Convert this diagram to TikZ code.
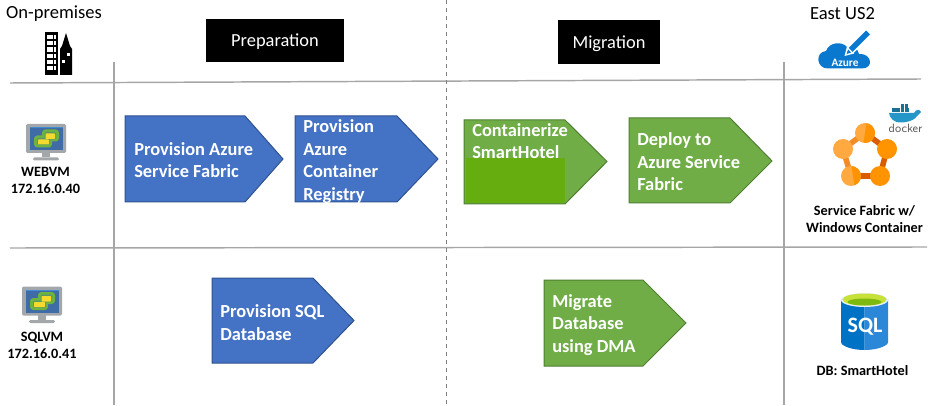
\documentclass[tikz,border=0pt]{standalone}
\usepackage{fontspec}
\setmainfont{Carlito}
\usetikzlibrary{positioning}
\definecolor{bluefill}{HTML}{4472C4}
\definecolor{blueline}{HTML}{2F528F}
\definecolor{greenfill}{HTML}{70AD47}
\definecolor{greenline}{HTML}{507E32}
\definecolor{limefill}{HTML}{66AD10}
\definecolor{gridgray}{HTML}{A6A6A6}
\definecolor{azureblue}{HTML}{0B78D0}
\definecolor{sqlright}{HTML}{2B88D8}
\definecolor{sqlleft}{HTML}{0072C6}
\definecolor{fabriclight}{HTML}{FFA940}
\definecolor{fabricdark}{HTML}{FF9300}
\definecolor{vmgray}{HTML}{A3A7AA}
\definecolor{vmscreen}{HTML}{3F6CA6}
\definecolor{vmgreen}{HTML}{6DB33F}
\definecolor{vmyellow}{HTML}{F4D92E}
\definecolor{dockerblue}{HTML}{2496C8}
\tikzset{
    gridline/.style={gridgray, line width=1.1pt},
    bluearrow/.style={fill=bluefill, draw=blueline, line width=0.75pt},
    greenarrow/.style={fill=greenfill, draw=greenline, line width=0.75pt},
    arrowtext/.style={anchor=west, align=left, text=white, inner sep=0pt,
        font=\fontsize{13.8}{16.9}\selectfont\bfseries},
    headbox/.style={fill=black, text=white, inner sep=0pt,
        font=\fontsize{13.8}{15}\selectfont},
    sitetext/.style={inner sep=0pt, font=\fontsize{13.9}{16}\selectfont},
    hosttext/.style={align=center, inner sep=0pt,
        font=\fontsize{10.7}{13.3}\selectfont\bfseries},
    vmicon/.pic={
        \fill[vmgray, rounded corners=1] (-20,-14.5) rectangle (20,14.5);
        \fill[vmgray] (-4,14) rectangle (4,19);
        \fill[vmgray, rounded corners=1] (-13,19) rectangle (13,22);
        \fill[vmscreen] (-16.5,-11.5) rectangle (16.5,11.5);
        \fill[cyan!60!blue!80] (-16.5,-11.5) rectangle (16.5,-10);
        \fill[vmgreen, rounded corners=2.5] (-12,-3) rectangle (6,9);
        \fill[vmgreen, rounded corners=2.5] (-4,-9) rectangle (13,3);
        \fill[vmgreen!60!vmscreen, rounded corners=1] (-9,-0.5) rectangle (4,6.5);
        \fill[vmgreen!60!vmscreen, rounded corners=1] (-1.5,-6.5) rectangle (10,1);
        \fill[vmyellow, rounded corners=0.5] (-8,1) rectangle (3,6);
        \fill[vmyellow, rounded corners=0.5] (-0.5,-5) rectangle (9,0.5);
    }
}
\begin{document}
\begin{tikzpicture}[x=0.75pt, y=-0.75pt]
    \useasboundingbox (0,0) rectangle (928,406);
    % grid
    \draw[gridline] (10,83)--(921,79);
    \draw[gridline] (10,248)--(927,247);
    \draw[gridline] (114,62)--(114,405);
    \draw[gridline] (784,62)--(784,405);
    \draw[gray, line width=0.75pt, dashed] (446,0)--(446,405);
    % column heads
    \node[sitetext] (onprem) at (54,13.5) {On-premises};
    \node[sitetext] (eastus) at (842.5,14) {East US2};
    \fill[black] (206,19) rectangle (344,62);
    \node[headbox] (prep) at (275,41.5) {Preparation};
    \fill[black] (558,20) rectangle (660,64);
    \node[headbox] (migr) at (609,43.5) {Migration};
    % building
    \fill[black] (45,32) rectangle (58,75);
    \fill[black] (60,49)--(62,46)--(66,33)--(70,46)--(72,49)--(72,75)--(60,75)--cycle;
    \foreach \i in {0,1,2,3,4,5}
        \foreach \j in {0,1,2}
            \fill[white] (47+3.4*\j,35+6.2*\i) rectangle +(2.5,4.2);
    \fill[white] (67,53) rectangle +(3,3);
    \fill[white] (62,60) rectangle +(3,3);
    % vm icons
    \path (46,138.5) pic {vmicon};
    \path (42,301) pic {vmicon};
    \node[hosttext] (webvm) at (45.5,180.5) {WEBVM\\172.16.0.40};
    \node[hosttext] (sqlvm) at (42,345.5) {SQLVM\\172.16.0.41};
    % blue arrows
    \draw[bluearrow] (125,116)--(245,116)--(283,159)--(245,202)--(125,202)--cycle;
    \node[arrowtext] (fabric) at (134,160) {Provision Azure\\Service Fabric};
    \draw[bluearrow] (295,116)--(397,116)--(438,159)--(397,202)--(295,202)--cycle;
    \node[arrowtext] (registry) at (303,161.5) {Provision\\Azure\\Container\\Registry};
    \draw[bluearrow] (212,278)--(313,278)--(354,320.5)--(313,363)--(212,363)--cycle;
    \node[arrowtext] (sqldb) at (220,322.5) {Provision SQL\\Database};
    % green arrows
    \draw[greenarrow] (464,120)--(565,120)--(607,161.5)--(565,204)--(464,204)--cycle;
    \fill[limefill] (466,158) rectangle (565,203);
    \node[arrowtext] (contain) at (472,141) {Containerize\\SmartHotel};
    \draw[greenarrow] (629,118)--(730,118)--(772,161)--(730,203)--(629,203)--cycle;
    \node[arrowtext] (deploy) at (637,162) {Deploy to\\Azure Service\\Fabric};
    \draw[greenarrow] (544,280)--(643,280)--(686,323)--(643,366)--(544,366)--cycle;
    \node[arrowtext] (dma) at (552,325) {Migrate\\Database\\using DMA};
    % azure cloud
    \fill[azureblue] (828,68.5) .. controls (816,68.5) and (815,52) .. (826,51)
        .. controls (829,42) and (842,41) .. (847,47)
        .. controls (852,45) and (858,48) .. (859,54)
        .. controls (872,53) and (874,68.5) .. (862,68.5) -- cycle;
    \draw[white, line width=6.4pt] (850,50.5)--(868,32.5);
    \draw[azureblue, line width=4pt] (850,50.5)--(868,32.5);
    \fill[white] (844.5,56) -- (847,46.5) -- (854,53.5) -- cycle;
    \fill[azureblue] (846.5,54) -- (848,49.5) -- (851,52.5) -- cycle;
    \node[inner sep=0pt, text=white, font=\fontsize{8.5}{9}\selectfont\bfseries] (azure) at (845,63) {Azure};
    % docker
    \fill[dockerblue] (889,113) -- (914,113)
        .. controls (916,109) and (920,109) .. (921,112)
        .. controls (917,115) and (916,122) .. (901,122.5)
        .. controls (893,122.5) and (890,118) .. (889,113) -- cycle;
    \foreach \i in {0,1,2,3}
        \fill[dockerblue!75!black] (892+4.3*\i,108.5) rectangle +(3.6,3.8);
    \fill[dockerblue!75!black] (900.5,104.5) rectangle +(3.6,3.5);
    \fill[dockerblue!75!black] (904.8,104.5) rectangle +(3.6,3.5);
    \node[inner sep=0pt, text=gray!70!black, font=\sffamily\fontsize{9}{9}\selectfont] (docker) at (905.5,128) {docker};
    % service fabric
    \draw[line width=4.2pt, orange!75!brown!90!white] (865,133)--(843,149)--(851,176);
    \draw[line width=4.2pt, orange!85!red!85!black] (865,133)--(887,149)--(880,176)--(851,176);
    \foreach \cx/\cy/\col in {843/149/fabriclight, 887/149/fabricdark, 880/176/fabricdark, 865/133/fabriclight, 851/176/fabriclight}
        \fill[\col] (\cx,\cy) circle[radius=10];
    \begin{scope}
        \clip (865,133) circle[radius=10];
        \fill[fabricdark] (867,120) -- (880,120) -- (880,146) -- (863,146) -- cycle;
    \end{scope}
    \begin{scope}
        \clip (851,176) circle[radius=10];
        \fill[fabricdark] (851,163) -- (866,163) -- (866,189) -- (855,189) -- cycle;
    \end{scope}
    \node[hosttext] (sfhost) at (864.5,219) {Service Fabric w/\\Windows Container};
    % sql
    \fill[sqlleft] (841,299) -- (841,342) .. controls (841,346) and (852,350) .. (864.5,350) -- (864.5,299) -- cycle;
    \fill[sqlright] (888,299) -- (888,342) .. controls (888,346) and (877,350) .. (864.5,350) -- (864.5,299) -- cycle;
    \fill[white!90!sqlleft] (864.5,300) ellipse[x radius=23.5, y radius=7];
    \fill[limefill!45!yellow!80!white] (864.5,299.5) ellipse[x radius=22, y radius=6];
    \fill[limefill!85!yellow] (864.5,302) ellipse[x radius=17, y radius=3.5];
    \node[inner sep=0pt, text=white, font=\fontsize{16.5}{17}\selectfont\bfseries] (sqltag) at (865,327) {SQL};
    \node[hosttext] (dbhost) at (862.5,370.5) {DB: SmartHotel};
\end{tikzpicture}
\end{document}
